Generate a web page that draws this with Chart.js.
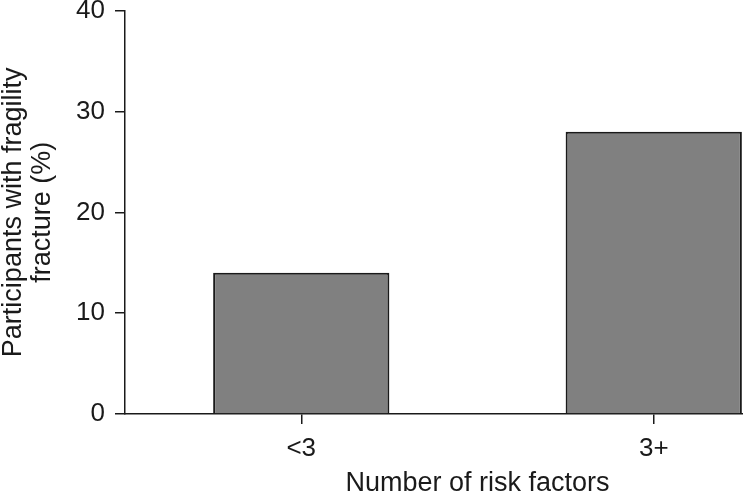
<!DOCTYPE html>
<html>
<head>
<meta charset="utf-8">
<script src="https://cdn.jsdelivr.net/npm/chart.js@4"></script>
<style>
  html, body { margin: 0; padding: 0; background: #fff; overflow: hidden; }
  canvas { display: block; }
</style>
</head>
<body>
<canvas id="chart" width="840" height="497"></canvas>
<script>
// data
const categories = ["<3", "3+"];
const fracturePct = [14, 28];
const yTicks = [0, 10, 20, 30, 40];

const FONT = "'Liberation Sans', Arial, Helvetica, sans-serif";
const INK = "#1a1a1a";

const ctx = document.getElementById("chart").getContext("2d");

new Chart(ctx, {
  type: "bar",
  data: {
    labels: categories,
    datasets: [{
      data: fracturePct,
      backgroundColor: "#808080",
      borderColor: INK,
      borderWidth: 2,
      categoryPercentage: 1,
      barPercentage: 0.5
    }]
  },
  options: {
    responsive: false,
    animation: false,
    layout: { padding: { top: 10.7, right: 10, bottom: 0, left: 0 } },
    plugins: {
      legend: { display: false },
      tooltip: { enabled: false }
    },
    scales: {
      x: {
        offset: true,
        grid: { display: true, offset: false, drawOnChartArea: false, tickLength: 10, color: INK, lineWidth: 1.5 },
        border: { display: true, color: INK, width: 1.5 },
        ticks: { color: INK, font: { family: FONT, size: 26 }, padding: 9 },
        title: {
          display: true,
          text: "Number of risk factors",
          color: INK,
          font: { family: FONT, size: 27, lineHeight: 0.96 },
          padding: { top: 0, bottom: 0 }
        },
        afterFit: s => {
          s.height = 83;
          s.paddingLeft = 0;
          s.paddingRight = 0;
        }
      },
      y: {
        min: 0,
        max: 40,
        afterBuildTicks: s => { s.ticks = yTicks.map(v => ({ value: v })); },
        grid: { display: true, drawOnChartArea: false, tickLength: 10, color: INK, lineWidth: 1.5 },
        border: { display: true, color: INK, width: 1.5 },
        ticks: { color: INK, font: { family: FONT, size: 26 }, padding: 10 },
        title: {
          display: true,
          text: ["Participants with fragility", "fracture (%)"],
          color: INK,
          font: { family: FONT, size: 27, lineHeight: 1.04 },
          padding: { top: 0, bottom: 0 }
        },
        afterFit: s => {
          s.width = 125;
          s.paddingTop = 0;
          s.paddingBottom = 0;
        }
      }
    }
  }
});
</script>
</body>
</html>
